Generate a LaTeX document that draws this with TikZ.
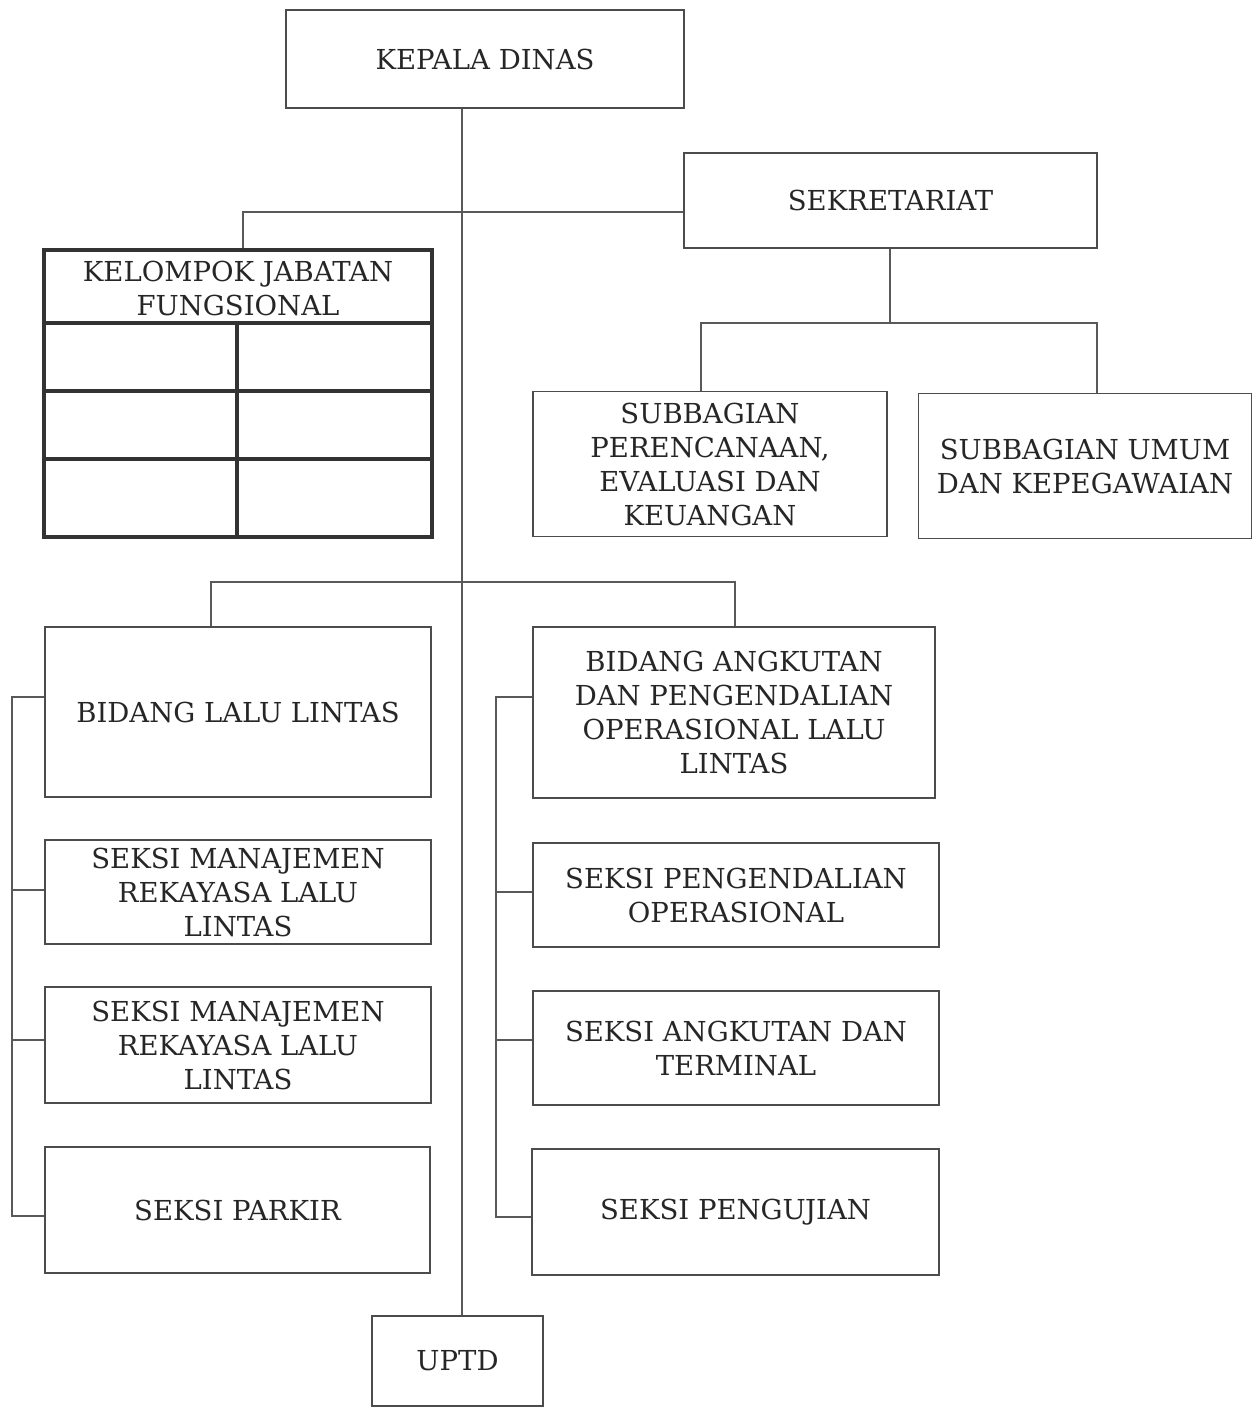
\documentclass[tikz,border=0pt]{standalone}
\usepackage{fontspec}
\setmainfont{DejaVu Serif}
\usetikzlibrary{calc}
\begin{document}
\begin{tikzpicture}[x=1pt,y=-1pt,
  box/.style={draw=black!70, line width=1.6pt, align=center, inner sep=0pt, text=black!85, font=\fontsize{27.5}{34}\selectfont},
  conn/.style={draw=black!65, line width=1.4pt},
  kjfline/.style={draw=black!80, line width=4pt}]
\useasboundingbox (0,0) rectangle (1253,1408);
% top level
\node[box, minimum width=398, minimum height=98] (kd) at (485,59) {KEPALA DINAS};
\node[box, minimum width=413, minimum height=95] (sek) at (890.5,200.5) {SEKRETARIAT};
\node[box, minimum width=354, minimum height=145] (spe) at (710,464) {SUBBAGIAN\\PERENCANAAN,\\EVALUASI DAN\\KEUANGAN};
\node[box, minimum width=333, minimum height=145] (sum) at (1085,466) {SUBBAGIAN UMUM\\DAN KEPEGAWAIAN};
% kelompok jabatan fungsional
\node[kjfline, minimum width=388, minimum height=287, inner sep=0pt] (kjf) at (238,393.5) {};
\node[box, draw=none, minimum width=380, minimum height=70] (kjft) at (238,288) {KELOMPOK JABATAN\\FUNGSIONAL};
\coordinate (kc) at (237,323);
\draw[kjfline] (kjf.west |- kc) -- (kjf.east |- kc);
\coordinate (kr2) at (237,391);
\draw[kjfline] (kjf.west |- kr2) -- (kjf.east |- kr2);
\coordinate (kr3) at (237,459);
\draw[kjfline] (kjf.west |- kr3) -- (kjf.east |- kr3);
\draw[kjfline] (kc) -- (kc |- kjf.south);
% bidang lalu lintas
\node[box, minimum width=386, minimum height=170] (bll) at (238,712) {BIDANG LALU LINTAS};
\node[box, minimum width=386, minimum height=104] (smr1) at (238,892) {SEKSI MANAJEMEN\\REKAYASA LALU\\LINTAS};
\node[box, minimum width=386, minimum height=116] (smr2) at (238,1045) {SEKSI MANAJEMEN\\REKAYASA LALU\\LINTAS};
\node[box, minimum width=385, minimum height=126] (spk) at (237.5,1210) {SEKSI PARKIR};
% bidang angkutan
\node[box, minimum width=402, minimum height=171] (ba) at (734,712.5) {BIDANG ANGKUTAN\\DAN PENGENDALIAN\\OPERASIONAL LALU\\LINTAS};
\node[box, minimum width=406, minimum height=104] (spo) at (736,895) {SEKSI PENGENDALIAN\\OPERASIONAL};
\node[box, minimum width=406, minimum height=114] (sat) at (736,1048) {SEKSI ANGKUTAN DAN\\TERMINAL};
\node[box, minimum width=407, minimum height=126] (spg) at (735.5,1212) {SEKSI PENGUJIAN};
% uptd
\node[box, minimum width=171, minimum height=90] (uptd) at (457.5,1361) {UPTD};
% connectors
\coordinate (spine) at (462,0);
\draw[conn] (kd.south -| spine) -- (uptd.north -| spine);
\coordinate (j1) at (243,212);
\draw[conn] (j1 |- kjf.north) -- (j1) -- (j1 -| sek.west);
\coordinate (j2) at (890,323);
\draw[conn] (sek.south -| j2) -- (j2);
\coordinate (a1) at (701,323);
\coordinate (a2) at (1097,323);
\draw[conn] (a1 |- spe.north) -- (a1) -- (a2) -- (a2 |- sum.north);
\coordinate (b1) at (211,582);
\coordinate (b2) at (735,582);
\draw[conn] (b1 |- bll.north) -- (b1) -- (b2) -- (b2 |- ba.north);
% left bracket
\coordinate (l1) at (12,697);
\coordinate (l2) at (12,890);
\coordinate (l3) at (12,1040);
\coordinate (l4) at (12,1216);
\draw[conn] (bll.west |- l1) -- (l1) -- (l4) -- (spk.west |- l4);
\draw[conn] (l2) -- (smr1.west |- l2);
\draw[conn] (l3) -- (smr2.west |- l3);
% right bracket
\coordinate (r1) at (496,697);
\coordinate (r2) at (496,892);
\coordinate (r3) at (496,1040);
\coordinate (r4) at (496,1217);
\draw[conn] (ba.west |- r1) -- (r1) -- (r4) -- (spg.west |- r4);
\draw[conn] (r2) -- (spo.west |- r2);
\draw[conn] (r3) -- (sat.west |- r3);
\end{tikzpicture}
\end{document}
